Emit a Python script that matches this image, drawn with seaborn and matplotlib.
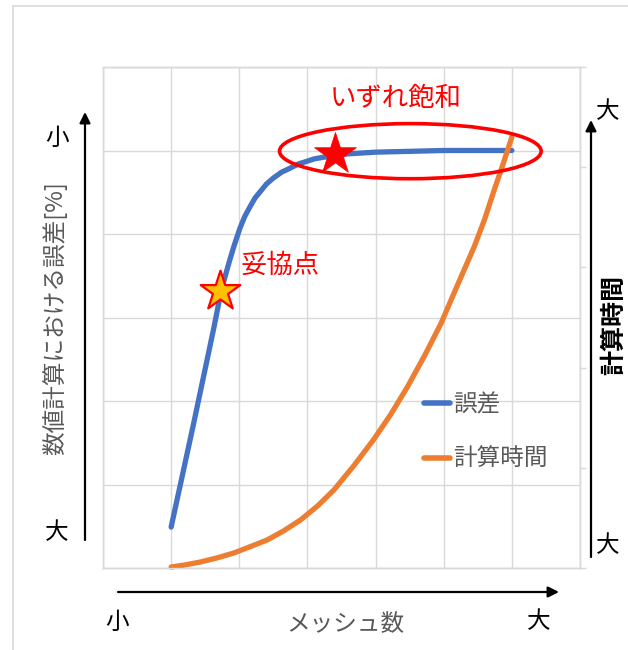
import matplotlib
matplotlib.use("Agg")
import matplotlib.pyplot as plt
import seaborn as sns
from matplotlib.patches import Ellipse, Rectangle, FancyArrowPatch

# ---- data ----
mesh_err = [1.00, 1.33, 1.62, 1.74, 1.85, 1.92, 2.01, 2.08, 2.16, 2.23, 2.31, 2.40, 2.50,
            2.62, 2.75, 2.87, 2.99, 3.10, 3.24, 3.40, 3.60, 4.00, 5.00, 6.00]
err = [0.49, 1.73, 2.85, 3.34, 3.66, 3.85, 4.07, 4.21, 4.33, 4.43, 4.51, 4.60, 4.67,
       4.74, 4.79, 4.84, 4.87, 4.90, 4.92, 4.94, 4.96, 4.98, 5.00, 5.00]

mesh_time = [1.00, 1.20, 1.43, 1.67, 1.92, 2.15, 2.41, 2.65, 2.90, 3.15, 3.39, 3.68,
             3.97, 4.22, 4.47, 4.72, 4.96, 5.20, 5.45, 5.60, 5.74, 5.87, 6.00]
calc_time = [0.01, 0.03, 0.06, 0.10, 0.15, 0.21, 0.28, 0.37, 0.48, 0.62, 0.78, 1.02,
             1.28, 1.53, 1.81, 2.12, 2.44, 2.82, 3.21, 3.48, 3.77, 4.03, 4.30]

compromise_pt = (1.72, 3.32)
saturation_pt = (3.40, 4.96)

series_names = ["誤差", "計算時間"]
x_name = "メッシュ数"
y_name = "数値計算における誤差[%]"
y2_name = "計算時間"
note_sat = "いずれ飽和"
note_comp = "妥協点"
small, large = "小", "大"

BLUE = "#4472C4"
ORANGE = "#ED7D31"
GRID = "#D9D9D9"
GRAY_TXT = "#595959"

sns.set_theme(style="white")
plt.rcParams["font.family"] = ["Noto Sans CJK JP", "DejaVu Sans"]

W, H = 628, 650
fig = plt.figure(figsize=(W / 100, H / 100), dpi=100)
ax = fig.add_axes([103 / W, 1 - 568 / H, (580 - 103) / W, (568 - 67) / H])
ax2 = ax.twinx()

# primary axis: error
sns.lineplot(x=mesh_err, y=err, ax=ax, color=BLUE, lw=3.8, label=series_names[0],
             solid_capstyle="round", solid_joinstyle="round", clip_on=False)
ax.set_xlim(0, 7)
ax.set_ylim(0, 6)
ax.set_xticks(range(0, 8))
ax.set_yticks(range(0, 7))
ax.grid(True, color=GRID, lw=1)
ax.tick_params(length=0, labelbottom=False, labelleft=False)
ax.set_xlabel("")
ax.set_ylabel("")

# secondary axis: computation time
sns.lineplot(x=mesh_time, y=calc_time, ax=ax2, color=ORANGE, lw=3.8, label=series_names[1],
             solid_capstyle="round", solid_joinstyle="round", clip_on=False)
ax2.set_ylim(0, 5)
ax2.set_yticks(range(0, 6))
ax2.grid(False)
ax2.tick_params(axis="y", right=True, length=4, width=1, color=GRID, labelright=False)
ax2.set_ylabel("")

for a in (ax, ax2):
    for sp in a.spines.values():
        sp.set_color(GRID)
        sp.set_linewidth(1)

# legend combining both series
h1, l1 = ax.get_legend_handles_labels()
h2, l2 = ax2.get_legend_handles_labels()
if ax.get_legend():
    ax.get_legend().remove()
leg = ax2.legend(h1 + h2, l1 + l2, loc="upper left",
                 bbox_to_anchor=(424 / W, 1 - 393 / H), bbox_transform=fig.transFigure,
                 frameon=False, fontsize=17, handlelength=1.1, handletextpad=0.15,
                 labelspacing=1.35, borderpad=0, borderaxespad=0)
for t in leg.get_texts():
    t.set_color(GRAY_TXT)
for ln in leg.get_lines():
    ln.set_linewidth(4)

# annotations on the chart
ax2.add_patch(Ellipse((4.51, 4.16), 3.84, 0.55, transform=ax2.transData,
                      fill=False, ec="#FF0000", lw=2.6, zorder=5))
ax.scatter([saturation_pt[0]], [saturation_pt[1]], marker="*", s=1000, color="#FF0000",
           edgecolor="#FF0000", linewidths=0.5, zorder=6, clip_on=False)
ax.scatter([compromise_pt[0]], [compromise_pt[1]], marker="*", s=900, color="#FFC000",
           edgecolor="#FF0000", linewidths=1.6, zorder=6, clip_on=False)
ax.text(4.30, (568 - 99) / 83.5, note_sat, color="#FF0000", fontsize=19,
        ha="center", va="center")
ax.text(2.02, (568 - 265) / 83.5, note_comp, color="#FF0000", fontsize=19,
        ha="left", va="center")

# figure-level decorations: frame, direction arrows, labels
def fx(x):
    return x / W

def fy(y):
    return 1 - y / H

fig.add_artist(Rectangle((fx(13), -0.1), 2, fy(6) + 0.1, transform=fig.transFigure,
                         fill=False, ec=GRID, lw=1.2))

def arrow(x0, y0, x1, y1):
    fig.add_artist(FancyArrowPatch((fx(x0), fy(y0)), (fx(x1), fy(y1)),
                                   transform=fig.transFigure, arrowstyle="-|>",
                                   mutation_scale=16, lw=1.6, color="black",
                                   shrinkA=0, shrinkB=0))

arrow(85, 540, 85, 112)
arrow(591, 557, 591, 120)
arrow(118, 592, 559, 592)

fig.text(fx(57), fy(138), small, fontsize=17, ha="center", va="center", color="black")
fig.text(fx(57), fy(533), large, fontsize=17, ha="center", va="center", color="black")
fig.text(fx(55), fy(318), y_name, fontsize=17, rotation=90, ha="center", va="center",
         color=GRAY_TXT)

fig.text(fx(608), fy(112), large, fontsize=17, ha="center", va="center", color="black")
fig.text(fx(608), fy(546), large, fontsize=17, ha="center", va="center", color="black")
fig.text(fx(614), fy(325), y2_name, fontsize=18, rotation=90, ha="center", va="center",
         color="black", fontweight="bold")

fig.text(fx(117), fy(622), small, fontsize=17, ha="center", va="center", color="black")
fig.text(fx(539), fy(622), large, fontsize=17, ha="center", va="center", color="black")
fig.text(fx(345), fy(625), x_name, fontsize=17, ha="center", va="center", color=GRAY_TXT)

fig.savefig("out.png", dpi=100, facecolor="white")
